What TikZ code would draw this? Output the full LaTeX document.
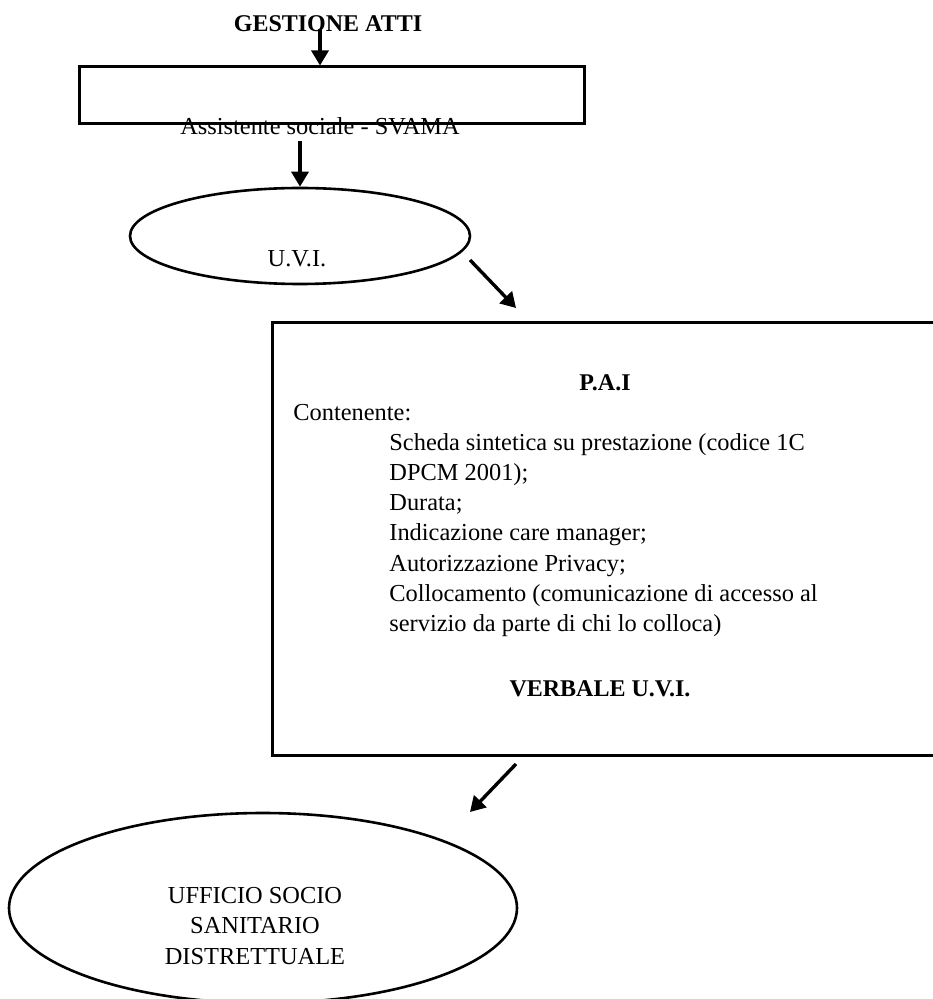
\documentclass[tikz,border=0pt]{standalone}
\usepackage{fontspec}
\setmainfont{Liberation Serif}
\usetikzlibrary{shapes.geometric}
\usetikzlibrary{arrows.meta}

\begin{document}
\begin{tikzpicture}[x=0.5pt,y=-0.5pt,
txt/.style={inner sep=0pt, font=\fontsize{12.2}{15}\selectfont},
btxt/.style={inner sep=0pt, font=\bfseries\fontsize{12}{15}\selectfont},
box/.style={draw, line width=1.5pt, inner sep=0pt},
oval/.style={ellipse, draw, line width=1.3pt, inner sep=0pt},
arr/.style={-{Triangle[length=7.5pt,width=8.5pt]}, line width=1.7pt},
]
\useasboundingbox (0,0) rectangle (932,999);

% shapes
\node[box, minimum width=252.5pt, minimum height=28.5pt] (ass) at (331.5,95.5) {};
\node[oval, minimum width=170pt, minimum height=48pt] (uvi) at (300,236) {};
\node[box, minimum width=336pt, minimum height=216pt] (pai) at (608,539) {};
\node[oval, minimum width=254pt, minimum height=95pt] (uff) at (263,908) {};

% texts
\node[btxt, anchor=base] (gest) at (328,32) {GESTIONE ATTI};
\node[txt, anchor=base] (asslbl) at (320,135) {Assistente sociale - SVAMA};
\node[txt, anchor=base] (uvilbl) at (297,267) {U.V.I.};
\node[btxt, anchor=base] (paihead) at (605,390) {P.A.I};
\node[txt, anchor=base west] (cont) at (293,420) {Contenente:};
\foreach \t [count=\i from 0] in {Scheda sintetica su prestazione (codice 1C, DPCM 2001);, Durata;, Indicazione care manager;, Autorizzazione Privacy;, Collocamento (comunicazione di accesso al, servizio da parte di chi lo colloca)}
  \node[txt, anchor=base west] (item\i) at (389,450+30.3*\i) {\t};
\node[btxt, anchor=base] (verb) at (600,696) {VERBALE U.V.I.};
\foreach \t [count=\i from 0] in {UFFICIO SOCIO, SANITARIO, DISTRETTUALE}
  \node[txt, anchor=base] (ufflbl\i) at (255,903+30.5*\i) {\t};

% arrows
\coordinate (g0) at (320,29);
\draw[arr] (g0) -- (g0 |- ass.north);
\coordinate (s0) at (300,141);
\draw[arr] (s0) -- (s0 |- uvi.north);
\coordinate (u0) at (470,260);
\coordinate (u1) at (516,308);
\draw[arr] (u0) -- (u1);
\coordinate (p0) at (516,764);
\coordinate (p1) at (470,812);
\draw[arr] (p0) -- (p1);
\end{tikzpicture}
\end{document}
